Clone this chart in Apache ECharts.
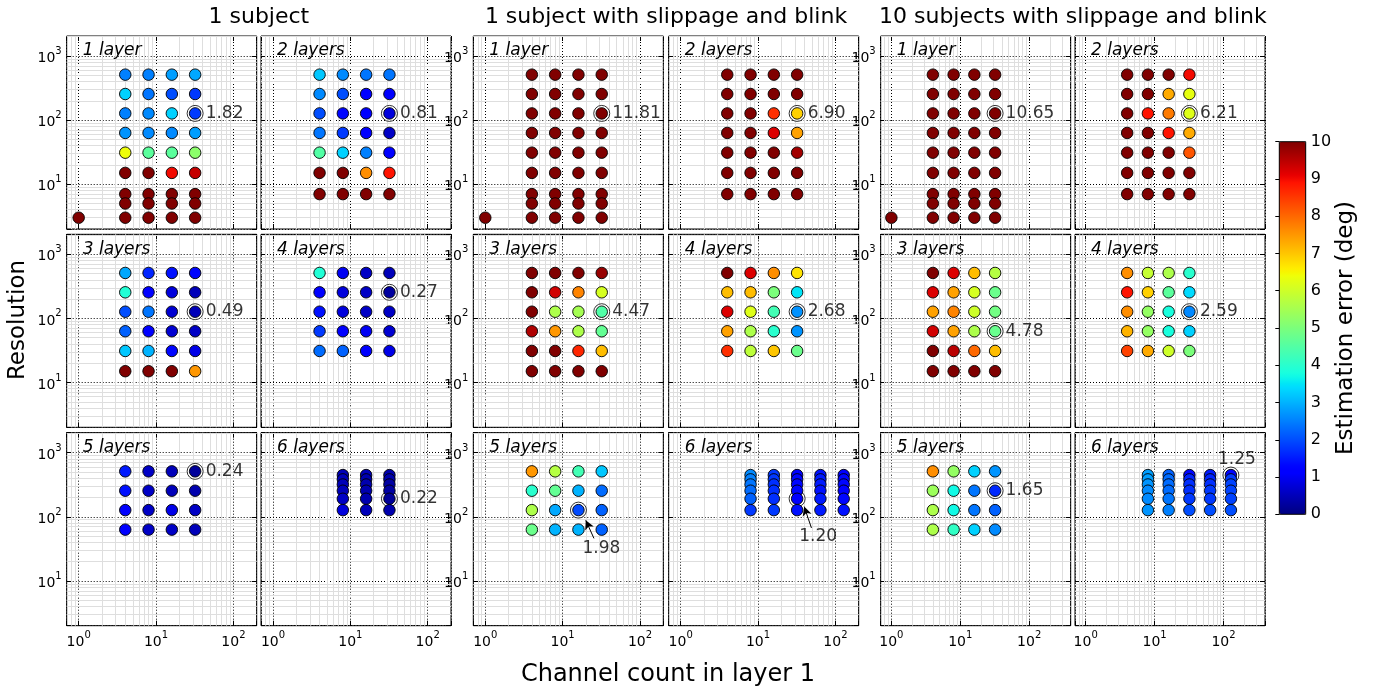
<!DOCTYPE html>
<html lang="en">
<head>
  <meta charset="UTF-8">
  <title>Estimation error vs channels and resolution</title>
  <script src="https://cdn.jsdelivr.net/npm/echarts@6/dist/echarts.min.js"></script>
  <style type="text/css">
    * { margin: 0; padding: 0; }
    html, body { width: 100%; height: 100%; overflow: hidden; background: #fff; }
    #main { width: 1377px; height: 690px; }
  </style>
</head>
<body>
<div id="main"></div>
<script type="text/javascript">
  // ---------------- data ----------------
  var groupTitles = ['1 subject', '1 subject with slippage and blink', '10 subjects with slippage and blink'];
  var layerNames = ['1 layer', '2 layers', '3 layers', '4 layers', '5 layers', '6 layers'];

  var channels = [4, 8, 16, 32];
  var channelsNarrow = [8, 16, 32];
  var channelsWide = [8, 16, 32, 64, 128];

  var res1 = [511, 255, 127, 63, 31, 15, 7, 5, 3];
  var res2 = [511, 255, 127, 63, 31, 15, 7];
  var res3 = [511, 255, 127, 63, 31, 15];
  var res4 = [511, 255, 127, 63, 31];
  var res5 = [511, 255, 127, 63];
  var res6 = [447, 383, 319, 255, 191, 127];

  var lonePoint = [1, 3];
  var loneErr = [12.0, 13.0, 12.5];

  // errors in degrees, rows follow the resolution list, columns the channel list
  var s1_l1 = [
    [2.5, 2.5, 2.8, 2.9],
    [3.3, 2.4, 2.0, 1.8],
    [2.5, 2.6, 3.3, 1.82],
    [2.7, 2.6, 2.6, 2.8],
    [6.4, 4.6, 4.6, 5.2],
    [10.5, 10.5, 9.0, 9.4],
    [11.5, 11.5, 11.5, 11.5],
    [12.0, 12.0, 12.0, 12.0],
    [12.5, 12.5, 12.5, 12.5]
  ];
  var s1_l2 = [
    [3.2, 2.6, 2.4, 2.4],
    [2.6, 2.0, 1.2, 1.2],
    [2.0, 1.3, 1.2, 0.81],
    [2.4, 1.8, 1.2, 0.6],
    [4.5, 3.3, 2.5, 1.2],
    [10.5, 10.5, 7.6, 8.9],
    [11.0, 11.0, 11.0, 11.0]
  ];
  var s1_l3 = [
    [2.9, 1.6, 1.4, 1.3],
    [3.9, 1.2, 0.8, 0.5],
    [2.0, 2.4, 0.7, 0.49],
    [2.2, 1.2, 0.7, 0.6],
    [3.2, 3.0, 1.3, 0.9],
    [10.5, 10.5, 10.2, 7.5]
  ];
  var s1_l4 = [
    [3.9, 1.0, 0.6, 0.5],
    [1.1, 0.8, 0.6, 0.27],
    [1.4, 0.8, 0.6, 0.6],
    [1.8, 1.2, 1.0, 0.7],
    [2.3, 2.2, 1.1, 0.9]
  ];
  var s1_l5 = [
    [1.5, 0.6, 0.5, 0.24],
    [1.4, 0.6, 0.5, 0.4],
    [1.2, 0.6, 0.9, 0.6],
    [1.2, 0.6, 0.6, 0.5]
  ];
  var s1_l6 = [
    [0.5, 0.5, 0.4],
    [0.5, 0.4, 0.4],
    [0.5, 0.4, 0.3],
    [0.5, 0.4, 0.3],
    [0.6, 0.4, 0.22],
    [0.8, 0.5, 0.4]
  ];

  var s2_l1 = [
    [14.0, 13.5, 13.0, 12.8],
    [13.8, 13.2, 12.8, 12.5],
    [13.5, 13.0, 12.5, 11.81],
    [13.5, 13.0, 12.6, 12.2],
    [13.8, 13.2, 12.8, 12.6],
    [14.5, 14.0, 13.5, 13.2],
    [15.0, 14.8, 14.5, 14.2],
    [15.2, 15.0, 14.8, 14.5],
    [15.5, 15.2, 15.0, 14.8]
  ];
  var s2_l2 = [
    [11.0, 11.0, 10.8, 10.5],
    [11.0, 10.8, 10.5, 10.3],
    [11.0, 10.5, 8.6, 6.90],
    [11.0, 10.4, 9.2, 7.4],
    [11.0, 10.5, 10.2, 9.7],
    [11.0, 11.0, 10.8, 10.4],
    [12.0, 12.0, 11.5, 11.0]
  ];
  var s2_l3 = [
    [10.5, 10.3, 10.2, 9.8],
    [10.3, 9.3, 7.7, 6.1],
    [10.2, 5.6, 5.5, 4.47],
    [9.6, 7.5, 5.6, 4.7],
    [10.3, 10.2, 8.7, 7.1],
    [11.0, 10.8, 10.5, 10.3]
  ];
  var s2_l4 = [
    [10.2, 9.2, 7.6, 6.7],
    [7.1, 7.1, 5.0, 3.5],
    [9.2, 6.2, 4.3, 2.68],
    [7.4, 5.6, 4.0, 2.7],
    [8.6, 5.8, 7.0, 4.8]
  ];
  var s2_l5 = [
    [7.5, 5.7, 4.3, 3.2],
    [4.0, 4.7, 3.0, 2.3],
    [5.6, 2.9, 1.98, 2.2],
    [4.8, 3.0, 3.0, 2.2]
  ];
  var s2_l6 = [
    [2.6, 1.8, 1.2, 1.4, 1.2],
    [2.5, 1.8, 1.3, 1.5, 1.3],
    [2.4, 1.7, 1.3, 1.5, 1.3],
    [2.3, 1.7, 1.3, 1.4, 1.2],
    [2.2, 1.7, 1.20, 1.5, 1.3],
    [1.8, 1.8, 1.4, 1.5, 1.4]
  ];

  var s3_l1 = [
    [13.0, 12.8, 12.5, 12.0],
    [12.8, 12.5, 12.0, 11.5],
    [12.5, 12.0, 11.5, 10.65],
    [12.5, 12.0, 11.6, 11.2],
    [12.8, 12.2, 11.8, 11.5],
    [13.5, 13.0, 12.5, 12.2],
    [14.0, 13.8, 13.5, 13.2],
    [14.2, 14.0, 13.8, 13.5],
    [14.5, 14.2, 14.0, 13.8]
  ];
  var s3_l2 = [
    [10.5, 10.5, 10.2, 9.0],
    [10.5, 10.2, 7.3, 6.3],
    [10.5, 8.9, 7.8, 6.21],
    [10.5, 10.2, 8.9, 7.3],
    [10.5, 10.2, 10.0, 8.2],
    [11.0, 10.5, 10.2, 10.0],
    [11.0, 11.0, 10.5, 10.3]
  ];
  var s3_l3 = [
    [10.0, 9.2, 7.1, 5.7],
    [9.2, 7.4, 6.1, 4.8],
    [7.4, 7.7, 6.0, 4.9],
    [9.3, 7.4, 5.6, 4.78],
    [10.0, 9.5, 8.0, 7.1],
    [10.5, 10.3, 10.2, 10.0]
  ];
  var s3_l4 = [
    [7.6, 5.9, 5.6, 4.0],
    [8.9, 6.9, 4.6, 3.4],
    [7.6, 5.3, 3.8, 2.59],
    [7.2, 5.3, 3.8, 3.3],
    [8.4, 7.3, 6.0, 5.0]
  ];
  var s3_l5 = [
    [7.6, 5.3, 3.3, 2.7],
    [5.4, 3.7, 2.4, 1.65],
    [5.6, 3.7, 2.4, 2.2],
    [5.6, 4.1, 3.3, 2.6]
  ];
  var s3_l6 = [
    [2.8, 2.2, 1.3, 1.5, 1.25],
    [2.8, 2.3, 1.6, 1.6, 1.8],
    [2.7, 2.3, 1.7, 1.7, 1.9],
    [2.6, 2.3, 1.7, 1.8, 1.9],
    [2.6, 2.4, 1.8, 1.8, 1.9],
    [2.7, 2.5, 2.0, 2.0, 2.0]
  ];

  // best model per panel: [channels, resolution, error]
  var best1 = [[32, 127, 1.82], [32, 127, 0.81], [32, 127, 0.49], [32, 255, 0.27], [32, 511, 0.24], [32, 191, 0.22]];
  var best2 = [[32, 127, 11.81], [32, 127, 6.90], [32, 127, 4.47], [32, 127, 2.68], [16, 127, 1.98], [32, 191, 1.20]];
  var best3 = [[32, 127, 10.65], [32, 127, 6.21], [32, 63, 4.78], [32, 127, 2.59], [32, 255, 1.65], [128, 447, 1.25]];

  // arrow annotations: [from, to] in data coords
  var arrow2_l5 = [[25.4, 46], [19.9, 88]];
  var arrow2_l6 = [[49, 67], [39.5, 144]];

  var colorTicks = [0, 10];

  // ---------------- layout ----------------
  var FONT = 'DejaVu Sans';
  var gridLefts = [66.7, 261, 473.3, 668.7, 880.7, 1075];
  var gridTops = [36, 234.3, 432.7];
  var PW = 190, PH = 193;
  var xRanges = [[0.7, 200], [0.7, 200], [0.7, 400]];
  var yRange = [2, 2048];

  var errs = [
    [s1_l1, s1_l2, s1_l3, s1_l4, s1_l5, s1_l6],
    [s2_l1, s2_l2, s2_l3, s2_l4, s2_l5, s2_l6],
    [s3_l1, s3_l2, s3_l3, s3_l4, s3_l5, s3_l6]
  ];
  var bests = [best1, best2, best3];
  var resByLayer = [res1, res2, res3, res4, res5, res6];

  // matplotlib jet
  var jr = [[0, 0], [0.35, 0], [0.66, 1], [0.89, 1], [1, 0.5]];
  var jg = [[0, 0], [0.125, 0], [0.375, 1], [0.64, 1], [0.91, 0], [1, 0]];
  var jb = [[0, 0.5], [0.11, 1], [0.34, 1], [0.65, 0], [1, 0]];
  function seg(pts, t) {
    for (var i = 1; i < pts.length; i++) {
      if (t <= pts[i][0]) {
        var a = pts[i - 1], b = pts[i];
        return a[1] + (b[1] - a[1]) * (t - a[0]) / (b[0] - a[0]);
      }
    }
    return pts[pts.length - 1][1];
  }
  var jet = [];
  for (var k = 0; k <= 100; k++) {
    var t = k / 100;
    jet.push('rgb(' + Math.round(seg(jr, t) * 255) + ',' + Math.round(seg(jg, t) * 255) + ',' + Math.round(seg(jb, t) * 255) + ')');
  }

  function minorValues(lo, hi) {
    var out = [];
    for (var e = -1; e <= 4; e++) {
      for (var m = 2; m <= 9; m++) {
        var v = m * Math.pow(10, e);
        if (v > lo * 1.001 && v < hi * 0.999) out.push(v);
      }
    }
    return out;
  }

  function powLabel(v) {
    var e = Math.round(Math.log10(v));
    if (Math.abs(v - Math.pow(10, e)) > 1e-6 * v) return '';
    return '{b|10}{s|' + e + '}';
  }
  var powRich = {
    b: { fontFamily: FONT, fontSize: 14, color: '#000', lineHeight: 19, verticalAlign: 'bottom' },
    s: { fontFamily: FONT, fontSize: 10, color: '#000', lineHeight: 11, verticalAlign: 'top' }
  };

  function logAxis(pos, range, gi, showLabel) {
    var main = (pos === 'bottom' || pos === 'left');
    return {
      type: 'log', logBase: 10, gridIndex: gi, position: pos,
      min: range[0], max: range[1],
      axisLine: { show: false },
      axisTick: { show: true, inside: true, length: 5, lineStyle: { color: '#000', width: 1 } },
      minorTick: { show: true, splitNumber: 9, length: 2.5, lineStyle: { color: '#000', width: 1 } },
      splitLine: { show: main, lineStyle: { color: '#000', type: [1, 2], width: 1 } },
      minorSplitLine: { show: false },
      axisLabel: {
        show: showLabel, formatter: powLabel, rich: powRich,
        margin: 5, showMinLabel: true, showMaxLabel: true
      }
    };
  }

  var grids = [], xAxes = [], yAxes = [], series = [], graphics = [];
  var dotSeries = [];

  for (var g = 0; g < 3; g++) {
    for (var l = 0; l < 6; l++) {
      var gi = grids.length;
      var col = 2 * g + (l % 2), row = Math.floor(l / 2);
      var xr = xRanges[g];
      grids.push({
        left: gridLefts[col], top: gridTops[row], width: PW, height: PH,
        show: true, borderColor: '#000', borderWidth: 1, backgroundColor: 'transparent',
        containLabel: false, outerBoundsMode: 'none', z: 0
      });
      xAxes.push(logAxis('bottom', xr, gi, row === 2));
      xAxes.push(logAxis('top', xr, gi, false));
      yAxes.push(logAxis('left', yRange, gi, col % 2 === 0));
      yAxes.push(logAxis('right', yRange, gi, false));
      var xi = 2 * gi, yi = 2 * gi;

      // minor grid lines
      var mls = [];
      minorValues(xr[0], xr[1]).forEach(function (v) { mls.push({ xAxis: v }); });
      minorValues(yRange[0], yRange[1]).forEach(function (v) { mls.push({ yAxis: v }); });
      series.push({
        type: 'line', xAxisIndex: xi, yAxisIndex: yi, data: [], z: 1, silent: true,
        markLine: {
          silent: true, z: 1, symbol: ['none', 'none'], label: { show: false }, animation: false,
          lineStyle: { color: '#dedede', type: 'solid', width: 1 }, emphasis: { disabled: true },
          data: mls
        }
      });

      // dots
      var ch = (l === 5) ? (g === 0 ? channelsNarrow : channelsWide) : channels;
      var res = resByLayer[l];
      var m = errs[g][l];
      var pts = [];
      for (var r = 0; r < res.length; r++) {
        for (var c = 0; c < ch.length; c++) pts.push([ch[c], res[r], m[r][c]]);
      }
      if (l === 0) pts.push([lonePoint[0], lonePoint[1], loneErr[g]]);

      // ring + label for best model
      var b = bests[g][l];
      var lab = { show: true, formatter: b[2].toFixed(2), color: '#000', fontFamily: FONT, fontSize: 17, position: 'right', distance: 2 };
      var ml = null;
      if (g === 1 && l === 4) { lab.position = 'inside'; lab.offset = [23, 38]; ml = arrow2_l5; }
      if (g === 1 && l === 5) { lab.position = 'inside'; lab.offset = [21, 38]; ml = arrow2_l6; }
      if (g === 2 && l === 5) { lab.position = 'inside'; lab.offset = [6, -16]; }
      var ring = {
        type: 'scatter', xAxisIndex: xi, yAxisIndex: yi, z: 2, silent: true,
        symbol: 'circle', symbolSize: 16,
        itemStyle: { color: '#fff', borderColor: '#000', borderWidth: 1 },
        label: lab,
        data: [[b[0], b[1]]]
      };
      if (ml) {
        ring.markLine = {
          silent: true, symbol: ['none', 'arrow'], symbolSize: [7, 9], label: { show: false }, animation: false,
          lineStyle: { color: '#000', type: 'solid', width: 1 },
          data: [[{ coord: ml[0] }, { coord: ml[1] }]]
        };
      }
      series.push(ring);

      dotSeries.push(series.length);
      series.push({
        type: 'scatter', xAxisIndex: xi, yAxisIndex: yi, z: 3, silent: true,
        symbol: 'circle', symbolSize: 11.5,
        itemStyle: { borderColor: '#000', borderWidth: 0.9, opacity: 1 },
        data: pts
      });

      graphics.push({
        type: 'text', x: gridLefts[col] + 16, y: gridTops[row] + 15, silent: true, z: 10,
        style: { text: layerNames[l], font: 'italic 17px "' + FONT + '"', fill: '#000', textAlign: 'left', textVerticalAlign: 'middle', align: 'left', verticalAlign: 'middle' }
      });
    }
  }

  // colour bar axis
  var cbLeft = 1279.3, cbTop = 141.7, cbW = 26.4, cbH = 372.6;
  var cbg = grids.length;
  grids.push({ left: cbLeft, top: cbTop, width: cbW, height: cbH, show: true, borderColor: '#000', borderWidth: 1, backgroundColor: 'transparent', containLabel: false, outerBoundsMode: 'none', z: 5 });
  xAxes.push({ type: 'value', gridIndex: cbg, show: false, min: 0, max: 1 });
  yAxes.push({
    type: 'value', gridIndex: cbg, position: 'right', min: colorTicks[0], max: colorTicks[1], interval: 1, z: 5,
    axisLine: { show: false },
    axisTick: { show: true, inside: true, length: 4, lineStyle: { color: '#000' } },
    splitLine: { show: false },
    axisLabel: { fontFamily: FONT, fontSize: 16, color: '#000', margin: 5 },
    name: 'Estimation error (deg)', nameLocation: 'middle', nameRotate: 90, nameGap: 25,
    nameTextStyle: { fontFamily: FONT, fontSize: 23, color: '#000' }
  });

  // titles and axis names
  var groupCenters = [(gridLefts[0] + gridLefts[1] + PW) / 2, (gridLefts[2] + gridLefts[3] + PW) / 2, (gridLefts[4] + gridLefts[5] + PW) / 2];
  groupTitles.forEach(function (s, i) {
    graphics.push({ type: 'text', x: groupCenters[i], y: 17, silent: true,
      style: { text: s, font: '22px "' + FONT + '"', fill: '#000', textAlign: 'center', textVerticalAlign: 'middle', align: 'center', verticalAlign: 'middle' } });
  });
  graphics.push({ type: 'text', x: 668, y: 675, silent: true,
    style: { text: 'Channel count in layer 1', font: '24px "' + FONT + '"', fill: '#000', textAlign: 'center', textVerticalAlign: 'middle', align: 'center', verticalAlign: 'middle' } });
  graphics.push({ type: 'text', x: 18, y: 320, rotation: Math.PI / 2, silent: true,
    style: { text: 'Resolution', font: '23px "' + FONT + '"', fill: '#000', textAlign: 'center', textVerticalAlign: 'middle', align: 'center', verticalAlign: 'middle' } });

  var chart = echarts.init(document.getElementById('main'));
  chart.setOption({
    animation: false,
    backgroundColor: '#fff',
    grid: grids,
    xAxis: xAxes,
    yAxis: yAxes,
    visualMap: {
      type: 'continuous', min: colorTicks[0], max: colorTicks[1], dimension: 2, seriesIndex: dotSeries,
      inRange: { color: jet }, outOfRange: { color: '#800000' },
      orient: 'vertical', left: cbLeft, top: cbTop, itemWidth: cbW, itemHeight: cbH,
      padding: 0, calculable: false, realtime: false, showLabel: false, text: null, z: 1
    },
    series: series,
    graphic: graphics
  });
</script>
</body>
</html>
